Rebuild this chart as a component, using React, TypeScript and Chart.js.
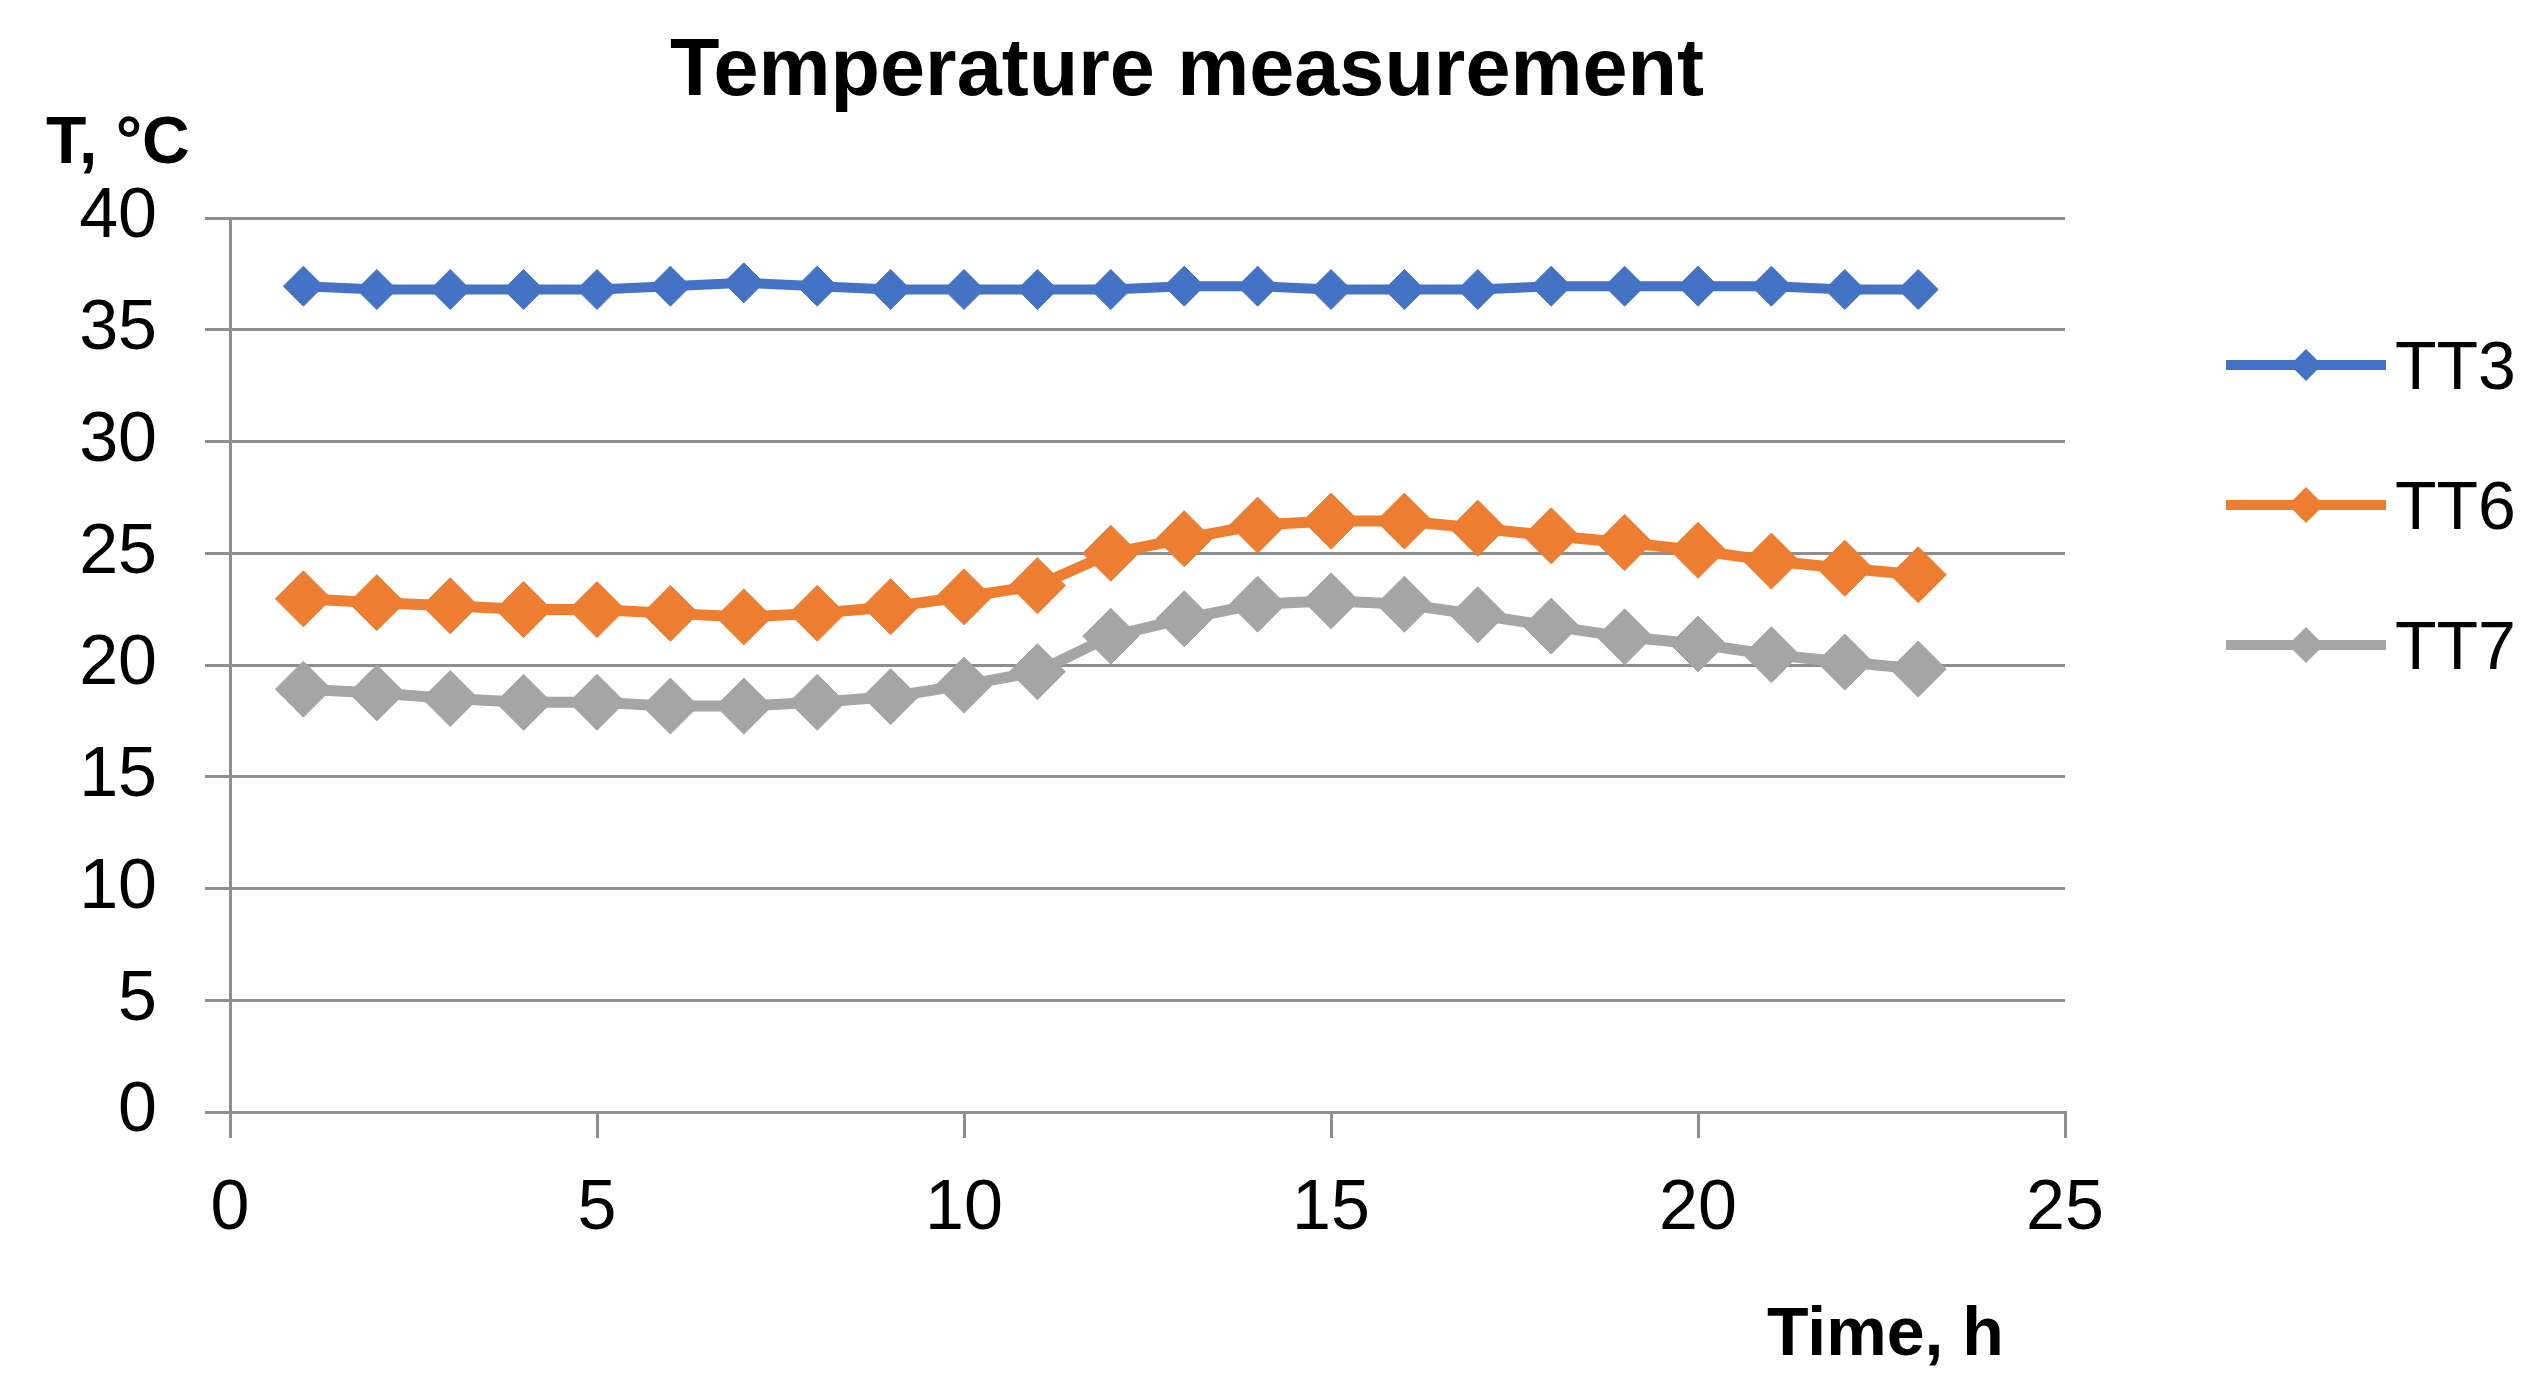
import React, { useEffect, useRef } from "react";
import { Chart, registerables } from "chart.js";

Chart.register(...registerables);

const hours = [1, 2, 3, 4, 5, 6, 7, 8, 9, 10, 11, 12, 13, 14, 15, 16, 17, 18, 19, 20, 21, 22, 23];
const tt3 = [36.95, 36.8, 36.8, 36.8, 36.8, 36.95, 37.1, 36.95, 36.8, 36.8, 36.8, 36.8, 36.95, 36.95, 36.8, 36.8, 36.8, 36.95, 36.95, 36.95, 36.95, 36.8, 36.8];
const tt6 = [22.96, 22.79, 22.65, 22.48, 22.48, 22.31, 22.15, 22.31, 22.61, 23.05, 23.55, 25.0, 25.65, 26.26, 26.44, 26.44, 26.12, 25.78, 25.48, 25.13, 24.65, 24.33, 24.04];
const tt7 = [18.92, 18.75, 18.5, 18.33, 18.33, 18.16, 18.16, 18.33, 18.58, 19.1, 19.7, 21.29, 22.07, 22.72, 22.87, 22.72, 22.25, 21.74, 21.26, 20.94, 20.46, 20.13, 19.82];
const seriesNames = ["TT3", "TT6", "TT7"];
const seriesColors = ["#4472C4", "#ED7D31", "#A5A5A5"];
const yTicks = [0, 5, 10, 15, 20, 25, 30, 35, 40];
const xTicks = [0, 5, 10, 15, 20, 25];

const titleText = "Temperature measurement";
const yTitle = "T, °C";
const xTitle = "Time, h";

const FONT = "'Liberation Sans', Arial, sans-serif";
const GRID = "#8e8e8e";

const W = 2541;
const H = 1389;

const textPlugin = {
  id: "excelText",
  afterDraw(chart: any) {
    const ctx = chart.ctx as CanvasRenderingContext2D;
    ctx.save();
    ctx.fillStyle = "#000";
    ctx.textBaseline = "alphabetic";
    // Title
    ctx.font = `bold 81px ${FONT}`;
    ctx.textAlign = "center";
    ctx.fillText(titleText, 1187, 95);
    // Y title
    ctx.font = `bold 66px ${FONT}`;
    ctx.textAlign = "left";
    ctx.fillText(yTitle, 46, 163);
    // X title
    ctx.font = `bold 68px ${FONT}`;
    ctx.textAlign = "left";
    ctx.fillText(xTitle, 1767, 1355);

    // Legend
    const legendYs = [365, 505, 645];
    const sizes = [16, 18, 18];
    chart.data.datasets.forEach((ds: any, i: number) => {
      const y = legendYs[i];
      ctx.strokeStyle = ds.borderColor;
      ctx.lineWidth = 10;
      ctx.lineCap = "butt";
      ctx.beginPath();
      ctx.moveTo(2226, y);
      ctx.lineTo(2386, y);
      ctx.stroke();
      const cx = 2306;
      const r = sizes[i];
      ctx.fillStyle = ds.borderColor;
      ctx.beginPath();
      ctx.moveTo(cx - r, y);
      ctx.lineTo(cx, y - r);
      ctx.lineTo(cx + r, y);
      ctx.lineTo(cx, y + r);
      ctx.closePath();
      ctx.fill();
      ctx.fillStyle = "#000";
      ctx.font = `68px ${FONT}`;
      ctx.textAlign = "left";
      ctx.textBaseline = "alphabetic";
      ctx.fillText(ds.label, 2395, y + 24);
    });
    ctx.restore();
  },
};

export default function App() {
  const ref = useRef<HTMLCanvasElement | null>(null);

  useEffect(() => {
    if (!ref.current) return;
    const mk = (vals: number[]) => hours.map((h, i) => ({ x: h, y: vals[i] }));
    const allVals = [tt3, tt6, tt7];
    const radii = [20, 28, 28];
    const widths = [10, 11, 11];
    const chart = new Chart(ref.current, {
      type: "line",
      data: {
        datasets: seriesNames.map((name, i) => ({
          label: name,
          data: mk(allVals[i]),
          borderColor: seriesColors[i],
          backgroundColor: seriesColors[i],
          borderWidth: widths[i],
          pointStyle: "rectRot",
          pointRadius: radii[i],
          pointBorderWidth: 1,
          pointBackgroundColor: seriesColors[i],
          pointBorderColor: seriesColors[i],
          tension: 0,
          fill: false,
        })),
      },
      options: {
        animation: false,
        responsive: false,
        devicePixelRatio: 1,
        layout: { padding: { left: 0, top: 218, right: W - 2065, bottom: 0 } },
        plugins: {
          legend: { display: false },
          title: { display: false },
          tooltip: { enabled: false },
        },
        scales: {
          x: {
            type: "linear",
            min: 0,
            max: 25,
            afterFit: (s: any) => {
              s.height = H - 1112;
            },
            afterBuildTicks: (s: any) => {
              s.ticks = xTicks.map((v) => ({ value: v }));
            },
            ticks: {
              font: { family: FONT, size: 70 },
              color: "#000",
              padding: 30,
              maxRotation: 0,
            },
            grid: {
              drawOnChartArea: false,
              drawTicks: true,
              tickLength: 26,
              color: GRID,
              lineWidth: 3,
            },
            border: { display: true, color: GRID, width: 3 },
          },
          y: {
            type: "linear",
            min: 0,
            max: 40,
            afterFit: (s: any) => {
              s.width = 230;
            },
            afterBuildTicks: (s: any) => {
              s.ticks = yTicks.map((v) => ({ value: v }));
            },
            ticks: {
              font: { family: FONT, size: 70 },
              color: "#000",
              padding: 48,
            },
            grid: {
              drawOnChartArea: true,
              drawTicks: true,
              tickLength: 25,
              color: GRID,
              lineWidth: 3,
            },
            border: { display: true, color: GRID, width: 3 },
          },
        },
      },
      plugins: [textPlugin],
    });
    return () => chart.destroy();
  }, []);

  return (
    <div style={{ position: "fixed", left: 0, top: 0, width: W, height: H, background: "#fff" }}>
      <canvas ref={ref} width={W} height={H} style={{ display: "block", width: W, height: H }} />
    </div>
  );
}
